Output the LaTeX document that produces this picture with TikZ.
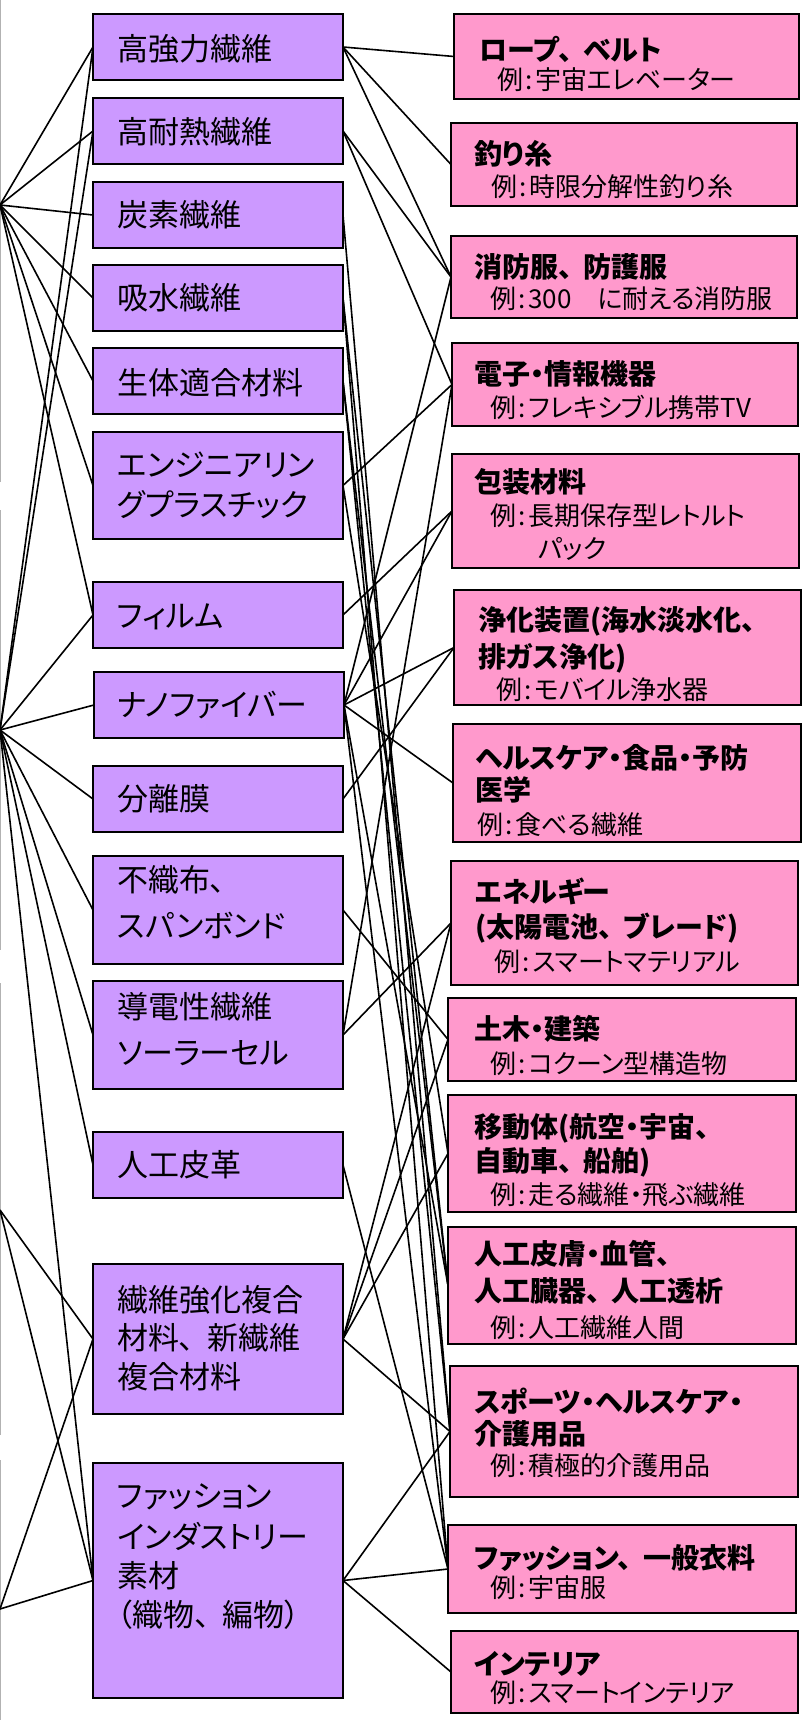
\documentclass[tikz,border=0pt]{standalone}
\usepackage{fontspec}
\setmainfont{Noto Sans CJK JP}[RawFeature=+palt]
\definecolor{lpur}{HTML}{CC99FF}
\definecolor{rpink}{HTML}{FF99CC}
\newcommand{\ten}{、\hspace{0.4em}}
\newcommand{\rei}{例\hspace{2pt}:\hspace{3pt}}
\tikzset{
  lbox/.style={draw=black, line width=2pt, fill=lpur, anchor=north west, inner sep=0pt, outer sep=0pt},
  rbox/.style={draw=black, line width=2pt, fill=rpink, anchor=north west, inner sep=0pt, outer sep=0pt},
  ltxt/.style={anchor=west, inner sep=0pt, font=\fontsize{31}{36}\selectfont},
  rtit/.style={anchor=west, inner sep=0pt, font=\fontsize{28}{32}\selectfont\bfseries},
  rex/.style={anchor=west, inner sep=0pt, font=\fontsize{26}{30}\selectfont},
  link/.style={line width=1.6pt, black},
  edge/.style={line width=1pt, black!30}
}
\begin{document}
\begin{tikzpicture}[x=1pt, y=-1pt]
\useasboundingbox (0,0) rectangle (803,1720);
\fill[white] (0,0) rectangle (803,1720);
% faint left edge
\draw[edge] (0.5,0) -- (0.5,482);
\draw[edge] (0.5,510) -- (0.5,950);
\draw[edge] (0.5,983) -- (0.5,1435);
\draw[edge] (0.5,1460) -- (0.5,1720);
% hubs
\coordinate (hA) at (0,205);
\coordinate (hB) at (0,730);
\coordinate (hC) at (0,1210);
\coordinate (hD) at (0,1609);
% left boxes
\node[lbox, minimum width=250pt, minimum height=66pt]  (L1)  at (93,14) {};
\node[lbox, minimum width=250pt, minimum height=66pt]  (L2)  at (93,98) {};
\node[lbox, minimum width=250pt, minimum height=66pt]  (L3)  at (93,182) {};
\node[lbox, minimum width=250pt, minimum height=66pt]  (L4)  at (93,265) {};
\node[lbox, minimum width=250pt, minimum height=66pt]  (L5)  at (93,348) {};
\node[lbox, minimum width=250pt, minimum height=107pt] (L6)  at (93,432) {};
\node[lbox, minimum width=250pt, minimum height=66pt]  (L7)  at (93,582) {};
\node[lbox, minimum width=250pt, minimum height=66pt]  (L8)  at (94,672) {};
\node[lbox, minimum width=250pt, minimum height=66pt]  (L9)  at (93,766) {};
\node[lbox, minimum width=250pt, minimum height=108pt] (L10) at (93,856) {};
\node[lbox, minimum width=250pt, minimum height=108pt] (L11) at (93,981) {};
\node[lbox, minimum width=250pt, minimum height=66pt]  (L12) at (93,1132) {};
\node[lbox, minimum width=250pt, minimum height=150pt] (L13) at (93,1264) {};
\node[lbox, minimum width=250pt, minimum height=235pt] (L14) at (93,1463) {};
% left texts
\node[ltxt] (a1) at (117,49) {高強力繊維};
\node[ltxt] (a2) at (117,132) {高耐熱繊維};
\node[ltxt] (a3) at (117,215) {炭素繊維};
\node[ltxt] (a4) at (117,298) {吸水繊維};
\node[ltxt] (a5) at (117,383) {生体適合材料};
\node[ltxt] (a6a) at (117,465) {エンジニアリン};
\node[ltxt] (a6b) at (117,505) {グプラスチック};
\node[ltxt] (a7) at (117,617) {フィルム};
\node[ltxt] (a8) at (117,705) {ナノファイバー};
\node[ltxt] (a9) at (117,799) {分離膜};
\node[ltxt] (a10a) at (117,880) {不織布、};
\node[ltxt] (a10b) at (117,925) {スパンボンド};
\node[ltxt] (a11a) at (117,1007) {導電性繊維};
\node[ltxt] (a11b) at (117,1053) {ソーラーセル};
\node[ltxt] (a12) at (117,1165) {人工皮革};
\node[ltxt] (a13a) at (117,1300) {繊維強化複合};
\node[ltxt] (a13b) at (117,1338) {材料\ten 新繊維};
\node[ltxt] (a13c) at (117,1377) {複合材料};
\node[ltxt] (a14a) at (117,1497) {ファッション};
\node[ltxt] (a14b) at (117,1536) {インダストリー};
\node[ltxt] (a14c) at (117,1576) {素材};
\node[ltxt] (a14d) at (117,1615) {（織物\ten 編物）};
% right boxes
\node[rbox, minimum width=345pt, minimum height=85pt]  (R1)  at (454,14) {};
\node[rbox, minimum width=346pt, minimum height=83pt]  (R2)  at (451,123) {};
\node[rbox, minimum width=346pt, minimum height=82pt]  (R3)  at (451,236) {};
\node[rbox, minimum width=346pt, minimum height=83pt]  (R4)  at (452,343) {};
\node[rbox, minimum width=347pt, minimum height=114pt] (R5)  at (452,454) {};
\node[rbox, minimum width=347pt, minimum height=115pt] (R6)  at (454,590) {};
\node[rbox, minimum width=348pt, minimum height=118pt] (R7)  at (453,724) {};
\node[rbox, minimum width=347pt, minimum height=124pt] (R8)  at (451,861) {};
\node[rbox, minimum width=348pt, minimum height=83pt]  (R9)  at (448,998) {};
\node[rbox, minimum width=348pt, minimum height=117pt] (R10) at (448,1095) {};
\node[rbox, minimum width=348pt, minimum height=117pt] (R11) at (448,1227) {};
\node[rbox, minimum width=348pt, minimum height=131pt] (R12) at (450,1366) {};
\node[rbox, minimum width=348pt, minimum height=88pt]  (R13) at (448,1525) {};
\node[rbox, minimum width=347pt, minimum height=82pt]  (R14) at (451,1631) {};
% right texts
\node[rtit] (b1a) at (479,49) {ロープ\ten ベルト};
\node[rex]  (b1b) at (497,80) {\rei 宇宙エレベーター};
\node[rtit] (b2a) at (474,154) {釣り糸};
\node[rex]  (b2b) at (491,187) {\rei 時限分解性釣り糸};
\node[rtit] (b3a) at (474,267) {消防服\ten 防護服};
\node[rex]  (b3b) at (490,299) {\rei 300\hspace{26pt}に耐える消防服};
\node[rtit] (b4a) at (474,374) {電子・情報機器};
\node[rex]  (b4b) at (490,407) {\rei フレキシブル携帯TV};
\node[rtit] (b5a) at (474,482) {包装材料};
\node[rex]  (b5b) at (490,516) {\rei 長期保存型レトルト};
\node[rex]  (b5c) at (538,549) {パック};
\node[rtit] (b6a) at (478,621) {浄化装置(海水淡水化\ten};
\node[rtit] (b6b) at (478,658) {排ガス浄化)};
\node[rex]  (b6c) at (496,690) {\rei モバイル浄水器};
\node[rtit] (b7a) at (475,758) {ヘルスケア・食品・予防};
\node[rtit] (b7b) at (475,790) {医学};
\node[rex]  (b7c) at (477,825) {\rei 食べる繊維};
\node[rtit] (b8a) at (475,891) {エネルギー};
\node[rtit] (b8b) at (475,928) {(太陽電池\ten ブレード)};
\node[rex]  (b8c) at (494,962) {\rei スマートマテリアル};
\node[rtit] (b9a) at (474,1029) {土木・建築};
\node[rex]  (b9b) at (490,1064) {\rei コクーン型構造物};
\node[rtit] (b10a) at (474,1128) {移動体(航空・宇宙\ten};
\node[rtit] (b10b) at (474,1162) {自動車\ten 船舶)};
\node[rex]  (b10c) at (490,1195) {\rei 走る繊維・飛ぶ繊維};
\node[rtit] (b11a) at (474,1254) {人工皮膚・血管\ten};
\node[rtit] (b11b) at (474,1291) {人工臓器\ten 人工透析};
\node[rex]  (b11c) at (490,1328) {\rei 人工繊維人間};
\node[rtit] (b12a) at (474,1401) {スポーツ・ヘルスケア・};
\node[rtit] (b12b) at (474,1434) {介護用品};
\node[rex]  (b12c) at (490,1466) {\rei 積極的介護用品};
\node[rtit] (b13a) at (474,1558) {ファッション\ten 一般衣料};
\node[rex]  (b13b) at (490,1588) {\rei 宇宙服};
\node[rtit] (b14a) at (474,1664) {インテリア};
\node[rex]  (b14b) at (490,1693) {\rei スマートインテリア};
% hub connectors
\foreach \t in {L1,L2,L3,L4,L5,L6,L7} \draw[link] (hA) -- (\t.west);
\foreach \t in {L1,L2,L7,L8,L9,L10,L11,L12,L14} \draw[link] (hB) -- (\t.west);
\foreach \t in {L13,L14} \draw[link] (hC) -- (\t.west);
\foreach \t in {L13,L14} \draw[link] (hD) -- (\t.west);
% middle connectors
\foreach \s/\t in {L1/R1,L1/R2,L1/R3,L2/R3,L2/R4,L3/R12,L4/R11,L4/R13,L5/R11,L5/R12,
  L6/R4,L6/R10,L7/R5,L8/R3,L8/R5,L8/R6,L8/R7,L8/R11,L8/R13,L9/R6,L10/R9,L11/R4,L11/R8,
  L12/R13,L13/R8,L13/R9,L13/R10,L13/R12,L14/R12,L14/R13,L14/R14}
  \draw[link] (\s.east) -- (\t.west);
\end{tikzpicture}
\end{document}
